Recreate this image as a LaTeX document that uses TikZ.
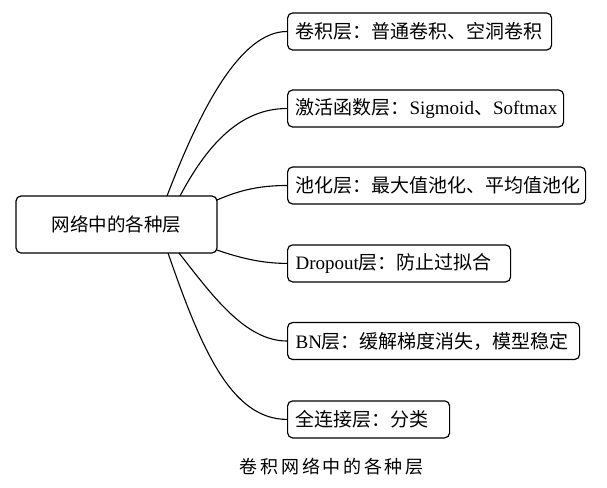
\documentclass[tikz,border=0pt]{standalone}
\usepackage{fontspec}
\setmainfont{Liberation Serif}
\newfontfamily\cjk{Noto Sans CJK SC}
\newfontfamily\capfont[LetterSpace=15]{Noto Sans CJK SC}
\begin{document}
\begin{tikzpicture}[x=1pt,y=1pt,
  leaf/.style={draw, line width=1.2pt, rounded corners=5pt, anchor=west,
    minimum height=37pt, inner xsep=8pt, inner ysep=0pt, align=left,
    font=\fontsize{19}{21}\selectfont},
  rootbox/.style={draw, line width=1.2pt, rounded corners=5pt,
    minimum width=201pt, minimum height=57pt, inner sep=0pt,
    font=\fontsize{18.5}{20}\selectfont\cjk},
  link/.style={line width=1.1pt}]
\useasboundingbox (0,0) rectangle (607,-487);
\node[rootbox] (root) at (116.5,-224.5) {网络中的各种层};
\node[leaf, text width=248pt] (b1) at (287,-31.5) {\cjk 卷积层：普通卷积、空洞卷积};
\node[leaf, text width=260pt] (b2) at (287,-108.5) {{\cjk 激活函数层：}Sigmoid{\cjk 、}Softmax};
\node[leaf, text width=282pt] (b3) at (287,-185.5) {\cjk 池化层：最大值池化、平均值池化};
\node[leaf, text width=207pt] (b4) at (287,-263.4) {Dropout{\cjk 层：防止过拟合}};
\node[leaf, text width=276pt] (b5) at (287,-341) {BN{\cjk 层：缓解梯度消失，模型稳定}};
\node[leaf, text width=146pt] (b6) at (287,-419.4) {\cjk 全连接层：分类};
\coordinate (s1) at (167,-196);
\coordinate (s2) at (180,-196);
\coordinate (s3) at (217,-200);
\coordinate (s4) at (217,-250);
\coordinate (s5) at (179,-253);
\coordinate (s6) at (168,-253);
\draw[link] (s1) .. controls (200,-110) and (240,-31.5) .. (b1.west);
\draw[link] (s2) .. controls (207,-145) and (240,-108.5) .. (b2.west);
\draw[link] (s3) .. controls (240,-190) and (260,-185.5) .. (b3.west);
\draw[link] (s4) .. controls (240,-258) and (262,-263.4) .. (b4.west);
\draw[link] (s5) .. controls (212,-295) and (245,-341) .. (b5.west);
\draw[link] (s6) .. controls (200,-345) and (230,-419.4) .. (b6.west);
\node[font=\fontsize{18}{20}\selectfont\capfont] (cap) at (331.7,-466.7) {卷积网络中的各种层};
\end{tikzpicture}
\end{document}
